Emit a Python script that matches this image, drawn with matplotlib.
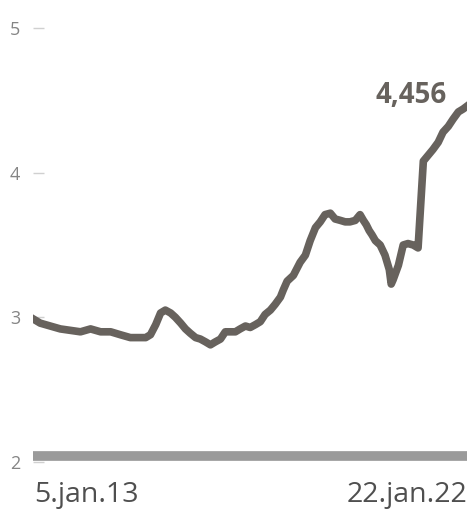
import matplotlib.pyplot as plt

# index level (thousands); x in decimal years
years = [2013.01, 2013.16, 2013.37, 2013.58, 2013.79, 2014.00, 2014.21, 2014.42, 2014.63,
         2014.83, 2015.04, 2015.25, 2015.36, 2015.46, 2015.57, 2015.67, 2015.77, 2015.88,
         2015.98, 2016.09, 2016.19, 2016.29, 2016.40, 2016.50, 2016.61, 2016.71, 2016.81,
         2016.92, 2017.02, 2017.13, 2017.23, 2017.33, 2017.44, 2017.54, 2017.65, 2017.75,
         2017.85, 2017.96, 2018.06, 2018.17, 2018.23, 2018.31, 2018.44, 2018.58, 2018.69,
         2018.79, 2018.90, 2019.00, 2019.10, 2019.21, 2019.31, 2019.42, 2019.52, 2019.62,
         2019.73, 2019.83, 2019.90, 2019.96, 2020.02, 2020.08, 2020.15, 2020.25, 2020.35,
         2020.44, 2020.48, 2020.52, 2020.63, 2020.73, 2020.83, 2020.94, 2021.04, 2021.15,
         2021.25, 2021.35, 2021.46, 2021.56, 2021.67, 2021.77, 2021.88, 2021.98, 2022.06]
values = [2.99, 2.96, 2.94, 2.92, 2.91, 2.90, 2.92, 2.90, 2.90,
          2.88, 2.86, 2.86, 2.86, 2.88, 2.95, 3.03, 3.05, 3.03,
          3.00, 2.96, 2.92, 2.89, 2.86, 2.85, 2.83, 2.81, 2.83,
          2.85, 2.90, 2.90, 2.90, 2.92, 2.94, 2.93, 2.95, 2.97,
          3.02, 3.05, 3.09, 3.14, 3.19, 3.25, 3.29, 3.38, 3.43,
          3.53, 3.62, 3.66, 3.71, 3.72, 3.68, 3.67, 3.66, 3.66,
          3.67, 3.71, 3.67, 3.64, 3.60, 3.57, 3.53, 3.50, 3.43,
          3.33, 3.23, 3.26, 3.36, 3.50, 3.51, 3.50, 3.48, 4.08,
          4.12, 4.16, 4.21, 4.28, 4.32, 4.37, 4.42, 4.44, 4.46]

y_ticks = [2, 3, 4, 5]
start_label = "5.jan.13"
end_label = "22.jan.22"
last_label = "4,456"

plt.rcParams['font.family'] = ['Open Sans', 'DejaVu Sans']

fig = plt.figure(figsize=(4.74, 5.09), dpi=100)
ax = fig.add_axes([0.0696, 0.0923, 0.9156, 0.8527])

x0, x1 = years[0], years[-1]
ax.plot([x0, x1], [2.04, 2.04], color="#9a9a9a", lw=7, solid_capstyle="butt")
ax.plot(years, values, color="#67625d", lw=5.5, solid_joinstyle="round")

ax.set_xlim(x0, x1)
ax.set_ylim(2, 5)
ax.set_yticks(y_ticks)
ax.set_xticks([])
ax.tick_params(axis="y", direction="in", length=8, width=1, color="#d0d0d0",
               labelcolor="#858585", labelsize=13, pad=9)
for s in ax.spines.values():
    s.set_visible(False)

ax.text(x0 + 0.02, 1.724, start_label, ha="left", va="baseline", fontsize=20.5, color="#4f4f4f")
ax.text(x1, 1.724, end_label, ha="right", va="baseline", fontsize=20.5, color="#4f4f4f")
ax.text(2021.64, 4.48, last_label, ha="right", va="baseline", fontsize=20,
        fontweight="bold", color="#67625d")

fig.savefig("out.png", dpi=100)
